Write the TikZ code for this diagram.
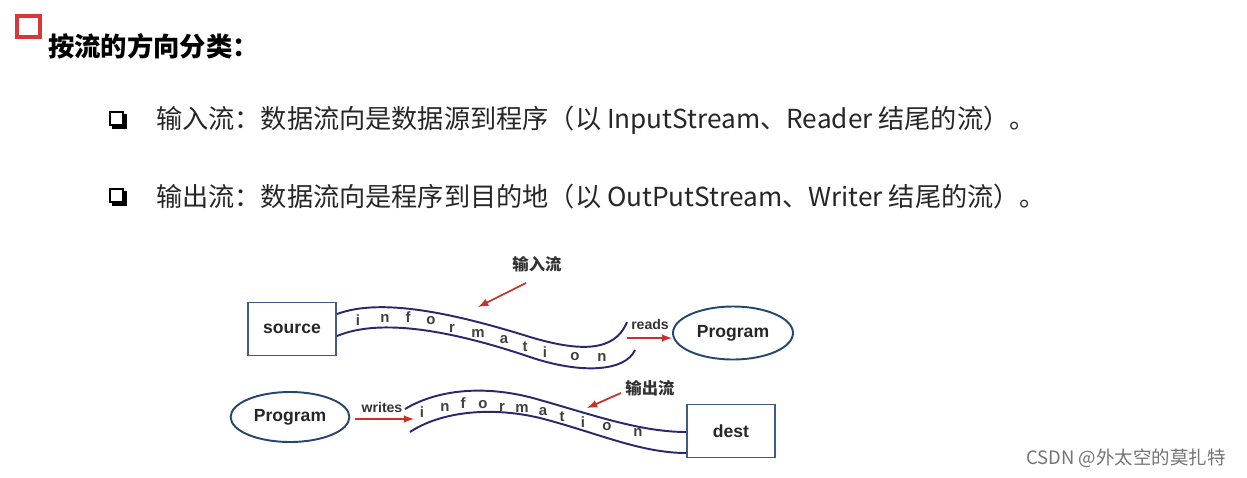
\documentclass[tikz,border=0pt]{standalone}
\usepackage{fontspec}
\setmainfont{Liberation Sans}
\newfontfamily\cjk{Noto Sans CJK SC}
\usepackage{tikz}
\usetikzlibrary{shapes.geometric}
\usetikzlibrary{arrows}
\definecolor{boxblue}{HTML}{3E5C86}
\definecolor{ellblue}{HTML}{24466F}
\definecolor{bandblue}{HTML}{28286E}
\definecolor{arrred}{HTML}{C8302A}
\definecolor{titlered}{HTML}{D9383A}
\begin{document}
\begin{tikzpicture}[x=0.02cm,y=-0.02cm,
  box/.style={draw=boxblue,line width=1.1pt,minimum width=1.76cm,minimum height=1.06cm,font=\bfseries\fontsize{10}{11}\selectfont,text=black!85},
  prog/.style={ellipse,draw=ellblue,line width=1.1pt,minimum width=2.4cm,minimum height=1.06cm,font=\bfseries\fontsize{10}{11}\selectfont,text=black!85},
  band/.style={draw=bandblue,line width=1.1pt},
  redarr/.style={->,>=latex,draw=arrred,line width=1pt},
  lbl/.style={font=\bfseries\fontsize{8}{9}\selectfont,text=black!80},
  letter/.style={font=\bfseries\fontsize{8.5}{9}\selectfont,text=black!75},
  cnlbl/.style={font=\cjk\bfseries\fontsize{9.3}{11}\selectfont,text=black!80},
  line/.style={anchor=west,font=\cjk\fontsize{14.9}{18}\selectfont,text=black!85}]
\useasboundingbox (0,0) rectangle (1247,477);
\draw[titlered,line width=2pt] (17,16) rectangle (40,37);
\node[anchor=west,font=\cjk\bfseries\fontsize{15}{18}\selectfont] (title) at (42,46) {按流的方向分类：};
\foreach \y in {120,197} {
  \draw[line width=1pt] (110,\y-8) rectangle (123,\y+5);
  \fill (112,\y+5) rectangle (127,\y+9);
  \fill (123,\y-6) rectangle (127,\y+9);
}
\node[line] (inline) at (150,120) {输入流：数据流向是数据源到程序（以 InputStream、Reader 结尾的流）。};
\node[line] (outline) at (150,197) {输出流：数据流向是程序到目的地（以 OutPutStream、Writer 结尾的流）。};

\node[box] (src) at (292,329) {source};
\node[prog] (prog) at (733,333) {Program};
\draw[band] (337,314) .. controls (380,298) and (450,312) .. (530,337) .. controls (580,352) and (615,352) .. (627,322);
\draw[band] (337,336) .. controls (380,318) and (450,330) .. (530,357) .. controls (580,374) and (625,372) .. (635,350);
\foreach \c/\x/\y in {i/358/320,n/385/318,f/408/317,o/431/321,r/452/328,m/478/333,a/504/340,t/525/347,i/545/352,o/575/357,n/602/357}
  \node[letter] at (\x,\y) {\c};
\node[cnlbl] (inlbl) at (537,264) {输入流};
\coordinate (in0) at (526,283);
\coordinate (in1) at (478,307);
\draw[redarr] (in0) -- (in1);
\coordinate (rd0) at (627,338);
\draw[redarr] (rd0) -- (rd0 -| prog.west);
\node[lbl] (reads) at (650,324) {reads};

\node[prog,minimum width=2.36cm,minimum height=1cm] (progb) at (290,417) {Program};
\node[box] (dest) at (731,431) {dest};
\draw[band] (405,409) .. controls (440,388) and (490,385) .. (540,400) .. controls (590,414) and (640,432) .. (dest.west |- 0,432);
\draw[band] (410,432) .. controls (440,412) and (490,406) .. (540,418) .. controls (595,432) and (640,453) .. (dest.west |- 0,453);
\foreach \c/\x/\y in {i/422/412,n/445/407,f/463/403,o/483/405,r/502/407,m/522/408,a/543/412,t/562/417,i/583/422,o/607/427,n/638/432}
  \node[letter] at (\x,\y) {\c};
\coordinate (wr0) at (355,419);
\coordinate (wr1) at (414,419);
\draw[redarr] (wr0) -- (wr1);
\node[lbl] (writes) at (382,407) {writes};
\node[cnlbl] (outlbl) at (650,388) {输出流};
\coordinate (out0) at (621,393);
\coordinate (out1) at (587,408);
\draw[redarr] (out0) -- (out1);

\node[font=\cjk\fontsize{10.5}{12}\selectfont,text=black!55] (mark) at (1126,458) {CSDN @外太空的莫扎特};
\end{tikzpicture}
\end{document}
